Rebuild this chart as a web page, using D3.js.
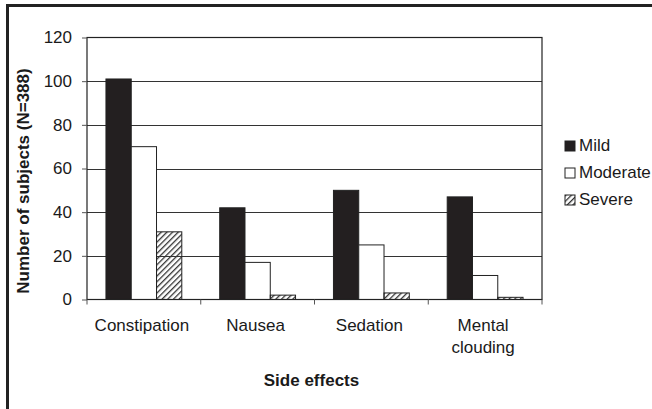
<!DOCTYPE html>
<html>
<head>
<meta charset="utf-8">
<script src="https://cdn.jsdelivr.net/npm/d3@7"></script>
<style>
  body { margin: 0; background: #fff; }
  text { font-family: "Liberation Sans", Arial, sans-serif; fill: #1a1a1a; }
</style>
</head>
<body>
<script>
var categories = ["Constipation", "Nausea", "Sedation", "Mental clouding"];
var series = ["Mild", "Moderate", "Severe"];
var mild = [101, 42, 50, 47];
var moderate = [70, 17, 25, 11];
var severe = [31, 2, 3, 1];
var yTicks = [0, 20, 40, 60, 80, 100, 120];

var values = [mild, moderate, severe];

var svg = d3.select("body")
    .append("svg")
    .attr("width", 652)
    .attr("height", 409)
    .style("display", "block");

// plot area edges
var plotL = 87, plotR = 542, plotT = 37.5, plotB = 299.5;

// hatch for severe
var defs = svg.append("defs");
defs.append("pattern")
    .attr("id", "hatch")
    .attr("patternUnits", "userSpaceOnUse")
    .attr("width", 4)
    .attr("height", 4)
    .attr("patternTransform", "rotate(45)")
    .append("rect")
    .attr("x", 0).attr("y", 0)
    .attr("width", 1.3).attr("height", 4)
    .attr("fill", "#333");

// outer frame (only top and left visible)
svg.append("path")
    .attr("d", "M7.5,409 L7.5,5.5 L652,5.5")
    .attr("fill", "none")
    .attr("stroke", "#222")
    .attr("stroke-width", 3);

var x0 = d3.scaleBand()
    .domain(categories)
    .range([plotL, plotR])
    .padding(0);

var bw = x0.bandwidth();
var gap = bw * 1.5 / 4.5;
var x1 = d3.scaleBand()
    .domain(series)
    .range([gap / 2, bw - gap / 2])
    .padding(0);

var y = d3.scaleLinear()
    .domain([0, 120])
    .range([plotB, plotT]);

var fills = { "Mild": "#231f20", "Moderate": "#fff", "Severe": "url(#hatch)" };

// gridlines
svg.append("g")
    .selectAll("line")
    .data(yTicks.slice(1, -1))
    .enter()
    .append("line")
    .attr("x1", plotL)
    .attr("x2", plotR)
    .attr("y1", function (d) { return Math.round(y(d)) + 0.5; })
    .attr("y2", function (d) { return Math.round(y(d)) + 0.5; })
    .attr("stroke", "#333")
    .attr("stroke-width", 1);

// bars
var groups = svg.append("g")
    .selectAll("g")
    .data(categories)
    .enter()
    .append("g")
    .attr("transform", function (d) { return "translate(" + x0(d) + ",0)"; });

groups.selectAll("rect")
    .data(function (d, i) {
        return series.map(function (s, j) { return { key: s, value: values[j][i] }; });
    })
    .enter()
    .append("rect")
    .attr("x", function (d) { return x1(d.key); })
    .attr("y", function (d) { return y(d.value); })
    .attr("width", x1.bandwidth())
    .attr("height", function (d) { return y(0) - y(d.value); })
    .attr("fill", function (d) { return fills[d.key]; })
    .attr("stroke", "#222")
    .attr("stroke-width", 1);

// plot border
svg.append("rect")
    .attr("x", plotL)
    .attr("y", plotT)
    .attr("width", plotR - plotL)
    .attr("height", plotB - plotT)
    .attr("fill", "none")
    .attr("stroke", "#222")
    .attr("stroke-width", 1.2);

// y axis
var yAxis = d3.axisLeft(y)
    .tickValues(yTicks)
    .tickSize(5)
    .tickPadding(10);

var ya = svg.append("g")
    .attr("transform", "translate(" + plotL + ",0)")
    .call(yAxis);
ya.select(".domain").remove();
ya.selectAll("line").attr("stroke", "#555");
ya.selectAll("text")
    .style("font-size", "17px")
    .style("font-family", "'Liberation Sans', Arial, sans-serif")
    .attr("fill", "#1a1a1a");

// x axis boundary ticks
svg.append("g")
    .selectAll("line")
    .data(categories.concat(["end"]))
    .enter()
    .append("line")
    .attr("x1", function (d, i) { return i < categories.length ? x0(d) : plotR; })
    .attr("x2", function (d, i) { return i < categories.length ? x0(d) : plotR; })
    .attr("y1", plotB)
    .attr("y2", plotB + 5)
    .attr("stroke", "#555");

// category labels
var labels = svg.append("g")
    .selectAll("text")
    .data(categories)
    .enter()
    .append("text")
    .attr("x", function (d) { return x0(d) + bw / 2 - 2; })
    .attr("y", 331)
    .style("text-anchor", "middle")
    .style("font-size", "17px");

labels.each(function (d) {
    var words = d.split(" ");
    var t = d3.select(this);
    var xx = t.attr("x");
    words.forEach(function (w, i) {
        t.append("tspan")
            .attr("x", xx)
            .attr("dy", i === 0 ? 0 : 21.5)
            .text(w);
    });
});

// axis titles
svg.append("text")
    .attr("x", (plotL + plotR) / 2 - 3)
    .attr("y", 386)
    .style("text-anchor", "middle")
    .style("font-size", "17px")
    .style("font-weight", "bold")
    .text("Side effects");

svg.append("text")
    .attr("transform", "translate(29," + 181 + ") rotate(-90)")
    .style("text-anchor", "middle")
    .style("font-size", "17px")
    .style("font-weight", "bold")
    .text("Number of subjects (N=388)");

// legend
var legend = svg.append("g")
    .selectAll("g")
    .data(series)
    .enter()
    .append("g")
    .attr("transform", function (d, i) { return "translate(565," + (141 + i * 27) + ")"; });

legend.append("rect")
    .attr("width", 10)
    .attr("height", 10)
    .attr("fill", function (d) { return fills[d]; })
    .attr("stroke", "#222")
    .attr("stroke-width", 1);

legend.append("text")
    .attr("x", 14)
    .attr("y", 10)
    .style("font-size", "17px")
    .text(function (d) { return d; });
</script>
</body>
</html>
